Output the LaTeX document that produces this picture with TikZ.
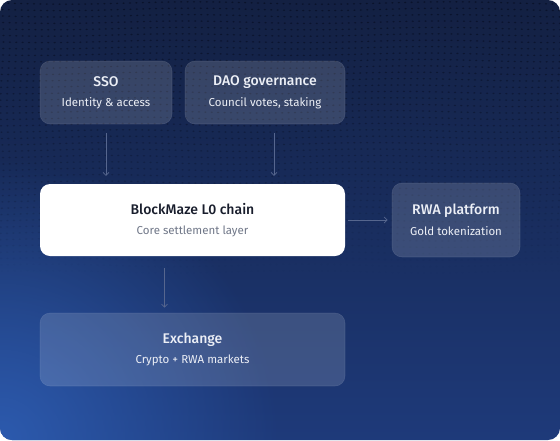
\documentclass[tikz,border=0pt]{standalone}
\usepackage{fontspec}
\setmainfont{Fira Sans}[BoldFont={Fira Sans Medium}]
\usetikzlibrary{arrows.meta, positioning, fadings}
\definecolor{bgtop}{RGB}{19,32,66}
\definecolor{bgbottom}{RGB}{30,58,122}
\definecolor{glowblue}{RGB}{46,94,180}
\definecolor{dotdark}{RGB}{9,17,40}
\definecolor{cardtext}{RGB}{236,239,246}
\definecolor{inkdark}{RGB}{24,29,44}
\definecolor{inkgray}{RGB}{112,119,136}
\definecolor{linkgray}{RGB}{86,102,142}

\tikzfading[name=glowfade, inner color=transparent!10, outer color=transparent!100]

\newcommand{\cardlabel}[2]{{\bfseries\fontsize{14}{16}\selectfont #1}\\[8pt]{\fontsize{11.5}{13}\selectfont #2}}

\begin{document}
\begin{tikzpicture}[
    x=1pt, y=-1pt,
    card/.style={rounded corners=10pt, fill=white, fill opacity=0.15, draw=white,
                 draw opacity=0.1, text opacity=1, text=cardtext, align=center,
                 line width=0.6pt, inner sep=0pt},
    chainbox/.style={rounded corners=10pt, fill=white, text=inkdark, align=center, inner sep=0pt},
    arrow/.style={-{Straight Barb[length=3pt,width=6pt]}, draw=linkgray, line width=0.7pt},
]
\useasboundingbox (0,0) rectangle (560,440);

%% Fondo con degradado y malla de puntos
\begin{scope}
\clip[rounded corners=12pt] (0,0) rectangle (560,440);
\shade[top color=bgtop, bottom color=bgbottom] (0,0) rectangle (560,440);
\fill[glowblue, path fading=glowfade] (-280,160) rectangle (280,720);
\foreach \row in {0,...,44} {
  \pgfmathsetmacro{\op}{max(0,0.85-\row*0.02)}
  \pgfmathsetmacro{\yy}{3+\row*6.4}
  \fill[dotdark, opacity=\op] foreach \col in {0,...,87}
     {({2+\col*6.4+1.5*sin(\row*17)}, {\yy+1.2*sin(\col*9+\row*5)}) ellipse (1.2pt and 0.8pt)};
}
\end{scope}

%% Nodos
\node[card, minimum width=132pt, minimum height=63pt] at (106,92.5) (sso)
     {\cardlabel{SSO}{Identity \& access}};
\node[card, minimum width=160pt, minimum height=63pt] at (265,92.5) (dao)
     {\cardlabel{DAO governance}{Council votes, staking}};
\node[chainbox, minimum width=305pt, minimum height=72pt] at (192.5,220) (core)
     {{\bfseries\fontsize{14}{16}\selectfont BlockMaze L0 chain}\\[8pt]{\color{inkgray}\fontsize{11.5}{13}\selectfont Core settlement layer}};
\node[card, minimum width=128pt, minimum height=74pt] at (456,220) (rwa)
     {\cardlabel{RWA platform}{Gold tokenization}};
\node[card, minimum width=305pt, minimum height=73pt] at (192.5,349.5) (exchange)
     {\cardlabel{Exchange}{Crypto + RWA markets}};

%% Flechas
\draw[arrow] ([yshift=-9pt]sso.south) -- ([yshift=8pt]sso.south |- core.north);
\draw[arrow] ([xshift=9pt,yshift=-9pt]dao.south) -- ([xshift=9pt,yshift=8pt]dao.south |- core.north);
\draw[arrow] ([xshift=3pt]core.east) -- ([xshift=-4pt]rwa.west);
\draw[arrow] ([xshift=-28pt,yshift=-12pt]core.south) -- ([xshift=-28pt,yshift=5pt]exchange.north);

\end{tikzpicture}
\end{document}
